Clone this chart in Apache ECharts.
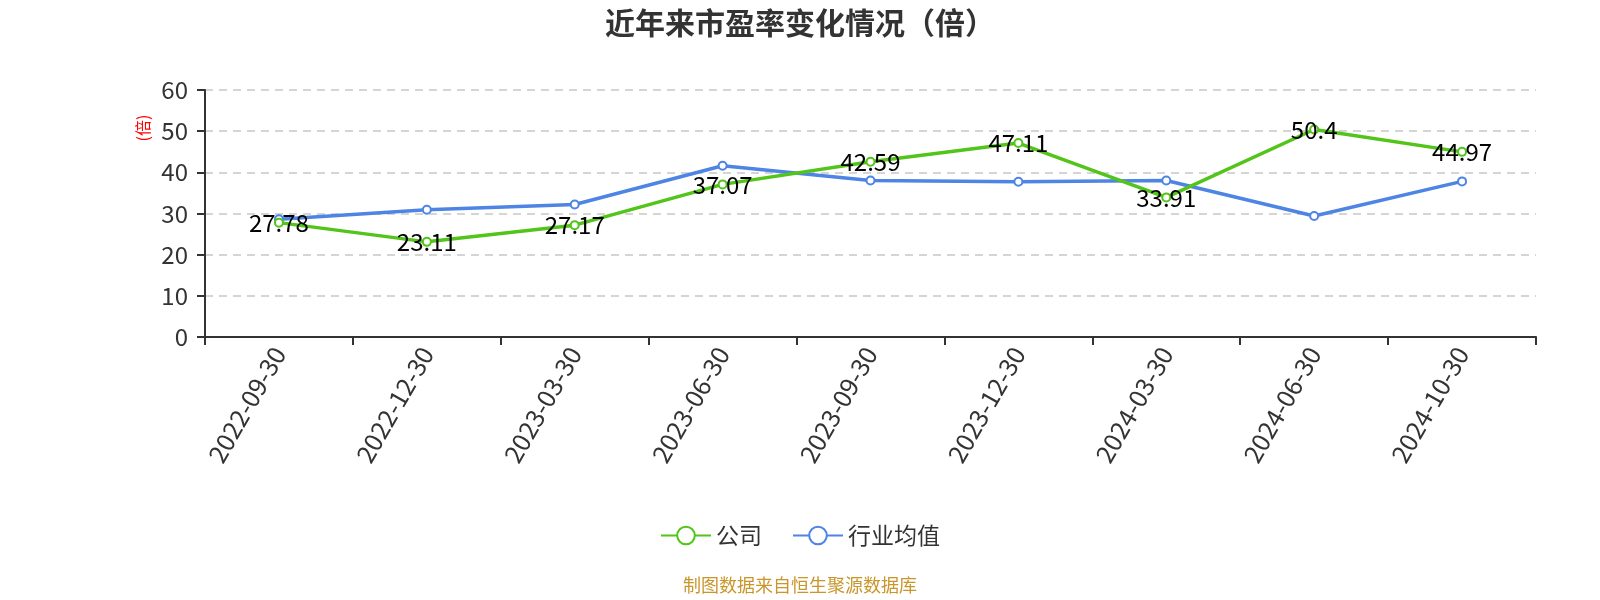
<!DOCTYPE html>
<html>
<head>
<meta charset="utf-8">
<script src="https://cdn.jsdelivr.net/npm/echarts@6/dist/echarts.min.js"></script>
<style>
html,body{margin:0;padding:0;background:#fff;}
#c{width:1600px;height:600px;}
</style>
</head>
<body>
<div id="c"></div>
<script>
var categories = ['2022-09-30','2022-12-30','2023-03-30','2023-06-30','2023-09-30','2023-12-30','2024-03-30','2024-06-30','2024-10-30'];
var companyValues = [27.78, 23.11, 27.17, 37.07, 42.59, 47.11, 33.91, 50.4, 44.97];
var industryValues = [28.6, 30.9, 32.2, 41.6, 38.0, 37.7, 38.0, 29.4, 37.8];
var yTicks = [0, 10, 20, 30, 40, 50, 60];
var seriesNames = ['公司', '行业均值'];

var FONT = '"Noto Sans CJK SC", "Noto Sans", sans-serif';
var chart = echarts.init(document.getElementById('c'), null, {renderer: 'canvas'});
chart.setOption({
  backgroundColor: '#fff',
  animation: false,
  textStyle: {fontFamily: FONT},
  title: {
    text: '近年来市盈率变化情况（倍）',
    left: 'center',
    top: 3,
    textStyle: {fontSize: 30, fontWeight: 'bold', color: '#333', fontFamily: FONT}
  },
  graphic: [
    {type: 'text', x: 143, y: 128, rotation: Math.PI / 2,
     style: {text: '(倍)', fill: '#ff0000', fontSize: 16, fontFamily: FONT, align: 'center', verticalAlign: 'middle'}},
    {type: 'text', left: 'center', top: 576,
     style: {text: '制图数据来自恒生聚源数据库', fill: '#C8962A', fontSize: 18, fontFamily: FONT}}
  ],
  legend: {
    data: seriesNames,
    bottom: 48,
    left: 'center',
    itemWidth: 50,
    itemHeight: 22,
    itemGap: 30,
    textStyle: {fontSize: 23, color: '#333', fontFamily: FONT}
  },
  grid: {left: 205, right: 64, top: 90, bottom: 263, containLabel: false},
  xAxis: {
    type: 'category',
    data: categories,
    boundaryGap: true,
    axisLine: {lineStyle: {color: '#333', width: 2}},
    axisTick: {show: true, length: 8, lineStyle: {color: '#333', width: 2}},
    axisLabel: {rotate: 60, fontSize: 25, color: '#333', margin: 12, fontFamily: FONT}
  },
  yAxis: {
    type: 'value',
    min: yTicks[0],
    max: yTicks[yTicks.length - 1],
    interval: 10,
    axisLine: {show: true, lineStyle: {color: '#333', width: 2}},
    axisTick: {show: true, length: 8, lineStyle: {color: '#333', width: 2}},
    axisLabel: {fontSize: 24, color: '#333', margin: 17, fontFamily: FONT},
    splitLine: {show: true, lineStyle: {type: [8, 6], color: '#c8c8c8', width: 1.5}}
  },
  series: [
    {
      name: seriesNames[0],
      type: 'line',
      data: companyValues,
      symbol: 'emptyCircle',
      symbolSize: 8,
      color: '#52C41A',
      lineStyle: {width: 3.5, color: '#52C41A'},
      itemStyle: {color: '#52C41A', borderWidth: 2},
      label: {show: true, position: 'inside', color: '#000', fontSize: 24, fontFamily: FONT},
      z: 3
    },
    {
      name: seriesNames[1],
      type: 'line',
      data: industryValues,
      symbol: 'emptyCircle',
      symbolSize: 8,
      color: '#4E84E4',
      lineStyle: {width: 3.5, color: '#4E84E4'},
      itemStyle: {color: '#4E84E4', borderWidth: 2},
      z: 2
    }
  ]
});
</script>
</body>
</html>
